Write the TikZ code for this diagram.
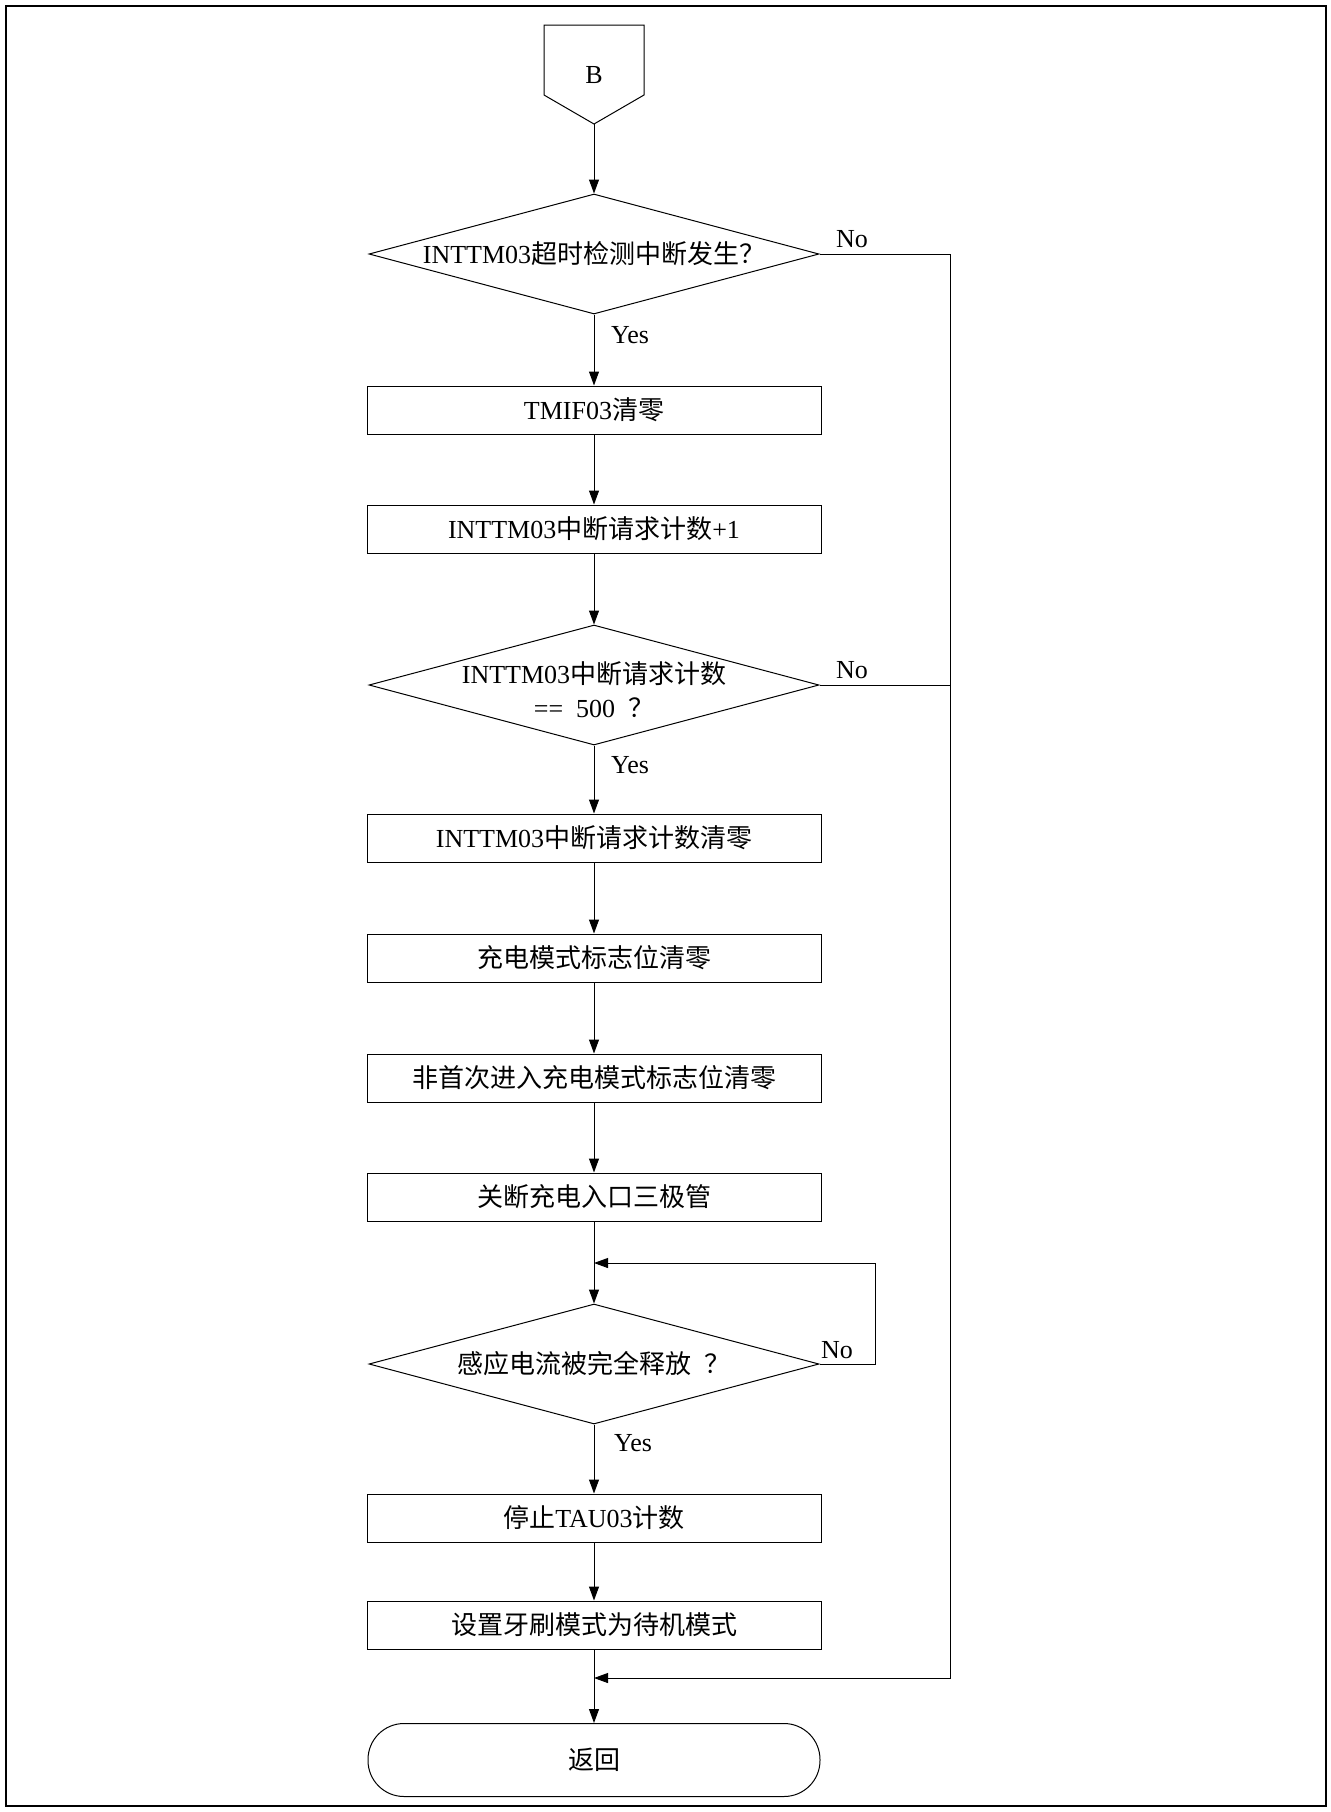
\documentclass[tikz,border=0pt]{standalone}
\usepackage{fontspec}
\setmainfont{Liberation Serif}
\newfontfamily\zhfont{Noto Sans CJK SC}
\newcommand\zh[1]{{\zhfont #1}}
\usetikzlibrary{shapes.geometric,arrows.meta}

\begin{document}
\begin{tikzpicture}[x=0.5pt,y=-0.5pt,>={Triangle[length=7pt,width=5pt]},
  font=\fontsize{13pt}{17pt}\selectfont]
\tikzstyle{proc}=[rectangle,draw,line width=0.5pt,minimum width=227pt,minimum height=24pt,inner sep=0pt]
\tikzstyle{decision}=[diamond,draw,line width=0.5pt,aspect=3.75,minimum width=225pt,minimum height=60pt,inner sep=0pt,align=center]
\tikzstyle{term}=[rectangle,draw,line width=0.5pt,rounded corners=18pt,minimum width=226pt,minimum height=36.5pt]
\tikzstyle{flow}=[line width=0.5pt]
\useasboundingbox (0,0) rectangle (1330,1812);
\draw[line width=1pt] (6,6) rectangle (1326,1806);

% off-page connector
\draw[line width=0.5pt] (544,25) -- (644,25) -- (644,95) -- (594,124) -- (544,95) -- cycle;
\node (B) at (594,75) {B};
\coordinate (Bpt) at (594,124);

\node[decision] (q1) at (594,254) {INTTM03\zh{超时检测中断发生？}};
\node[proc] (clr) at (594,410) {TMIF03\zh{清零}};
\node[proc] (cnt) at (594,529) {INTTM03\zh{中断请求计数}+1};
\node[decision,inner ysep=-6pt] (q2) at (594,685)
  {\raisebox{-2.5pt}[\height][\depth]{INTTM03\zh{中断请求计数}}\\\raisebox{-2.5pt}[\height][\depth]{==\ \ 500\ \ \zh{？}}};
\node[proc] (cntclr) at (594,838) {INTTM03\zh{中断请求计数清零}};
\node[proc] (chg) at (594,958) {\zh{充电模式标志位清零}};
\node[proc] (first) at (594,1078) {\zh{非首次进入充电模式标志位清零}};
\node[proc] (off) at (594,1197) {\zh{关断充电入口三极管}};
\coordinate (loop) at (594,1263);
\node[decision] (q3) at (594,1364) {\zh{感应电流被完全释放}\ \ \zh{？}};
\node[proc] (stop) at (594,1518) {\zh{停止}TAU03\zh{计数}};
\node[proc] (idle) at (594,1625) {\zh{设置牙刷模式为待机模式}};
\coordinate (join) at (594,1678);
\node[term] (ret) at (594,1760) {\zh{返回}};

\coordinate (rail) at (950,0);
\coordinate (back) at (875,0);

% labels
\node (no1) at (852,239) {No};
\node (yes1) at (630,335) {Yes};
\node (no2) at (852,670) {No};
\node (yes2) at (630,765) {Yes};
\node (no3) at (837,1350) {No};
\node (yes3) at (633,1443) {Yes};

% main column
\draw[flow,->] (Bpt) -- (q1);
\draw[flow,->] (q1) -- (clr);
\draw[flow,->] (clr) -- (cnt);
\draw[flow,->] (cnt) -- (q2);
\draw[flow,->] (q2) -- (cntclr);
\draw[flow,->] (cntclr) -- (chg);
\draw[flow,->] (chg) -- (first);
\draw[flow,->] (first) -- (off);
\draw[flow,->] (off) -- (q3);
\draw[flow,->] (q3) -- (stop);
\draw[flow,->] (stop) -- (idle);
\draw[flow,->] (idle) -- (ret);

% No branches
\draw[flow,->] (q1.east) -- (q1.east -| rail) |- (join);
\draw[flow] (q2.east) -- (q2.east -| rail);
\draw[flow,->] (q3.east) -- (q3.east -| back) |- (loop);
\end{tikzpicture}
\end{document}
